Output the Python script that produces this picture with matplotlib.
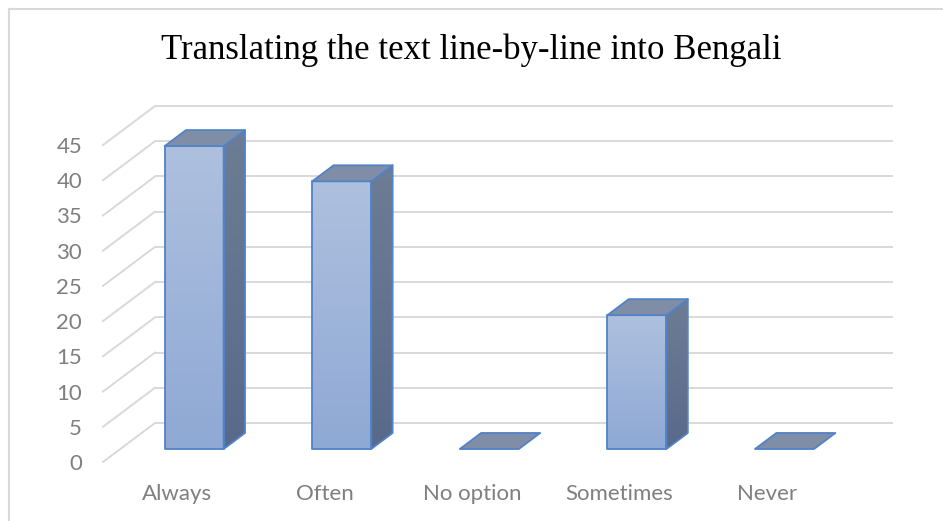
import numpy as np
import matplotlib
matplotlib.use("Agg")
import matplotlib.pyplot as plt
from matplotlib.patches import Polygon
from matplotlib.colors import LinearSegmentedColormap
from matplotlib.lines import Line2D

# ---- data ----
title = "Translating the text line-by-line into Bengali"
categories = ["Always", "Often", "No option", "Sometimes", "Never"]
values = [43, 38, 0, 19, 0]
yticks = [0, 5, 10, 15, 20, 25, 30, 35, 40, 45]

# ---- style / geometry ----
W, H = 943, 521
DX, DY = 0.3523, 5.537          # full-depth oblique offset in data units
D1, D2 = 0.333, 0.744           # bar front / back depth
BW = 0.40                       # bar width (categories)
GRID = "#d9d9d9"
EDGE = "#5083c8"
LABEL = "#7f7f7f"

fig = plt.figure(figsize=(W / 100, H / 100), dpi=100)
fig.patch.set_facecolor("white")
ax = fig.add_axes([103 / W, 59 / H, 790 / W, 356 / H])
ax.set_xlim(-0.5, len(categories) - 0.5 + DX)
ax.set_ylim(0, yticks[-1] + DY)
for s in ax.spines.values():
    s.set_visible(False)
ax.patch.set_alpha(0)


def P(x, y, d):
    return (x + d * DX, y + d * DY)


# gridlines: back wall + left wall diagonals
x_left, x_right = -0.5, len(categories) - 0.5
for t in yticks:
    ax.plot([x_left + DX, x_right + DX], [t + DY, t + DY], color=GRID, lw=1.4,
            zorder=1, solid_capstyle="butt", clip_on=False)
    ax.plot([x_left, x_left + DX], [t, t + DY], color=GRID, lw=1.4,
            zorder=1, clip_on=False)

front_cm = LinearSegmentedColormap.from_list("f", ["#8fa9d5", "#aec0de"])
side_cm = LinearSegmentedColormap.from_list("s", ["#59698a", "#6e7d95"])
grad = np.linspace(0, 1, 256).reshape(-1, 1)


def grad_poly(pts, cmap, z):
    poly = Polygon(pts, closed=True, facecolor="none", edgecolor="none")
    ax.add_patch(poly)
    xs = [p[0] for p in pts]
    ys = [p[1] for p in pts]
    im = ax.imshow(grad, cmap=cmap, origin="lower", aspect="auto",
                   extent=[min(xs), max(xs), min(ys), max(ys)], zorder=z,
                   interpolation="bilinear")
    im.set_clip_path(poly)
    ax.add_patch(Polygon(pts, closed=True, facecolor="none", edgecolor=EDGE,
                         lw=1.3, zorder=z + 0.1, joinstyle="round"))


for i, v in enumerate(values):
    x0, x1 = i - BW / 2, i + BW / 2
    z = 3 + i
    top = [P(x0, v, D1), P(x1, v, D1), P(x1, v, D2), P(x0, v, D2)]
    if v > 0:
        front = [P(x0, 0, D1), P(x1, 0, D1), P(x1, v, D1), P(x0, v, D1)]
        side = [P(x1, 0, D1), P(x1, 0, D2), P(x1, v, D2), P(x1, v, D1)]
        grad_poly(front, front_cm, z)
        grad_poly(side, side_cm, z)
    ax.add_patch(Polygon(top, closed=True, facecolor="#7f8ea6", edgecolor=EDGE,
                         lw=1.3, zorder=z + 0.2, joinstyle="round"))

ax.set_xlim(-0.5, len(categories) - 0.5 + DX)
ax.set_ylim(0, yticks[-1] + DY)

# axis labels
ax.set_xticks([])
ax.set_yticks(yticks)
ax.set_yticklabels([str(t) for t in yticks], family="Lato", fontsize=16, color=LABEL)
ax.tick_params(axis="y", length=0, pad=15)
for i, c in enumerate(categories):
    ax.text(i, -38 / 7.044, c, ha="center", va="baseline", family="Lato",
            fontsize=16, color=LABEL, clip_on=False)

fig.text(0.5, 1 - 59 / H, title, ha="center", va="baseline",
         family="Liberation Serif", fontsize=25, color="black")

# outer chart border (left + top visible)
fig.add_artist(Line2D([8.5 / W, 8.5 / W], [0, 1 - 9 / H], transform=fig.transFigure,
                      color=GRID, lw=1.5))
fig.add_artist(Line2D([8.5 / W, 1], [1 - 9 / H, 1 - 9 / H], transform=fig.transFigure,
                      color=GRID, lw=1.5))

fig.savefig("out.png", dpi=100, facecolor="white")
